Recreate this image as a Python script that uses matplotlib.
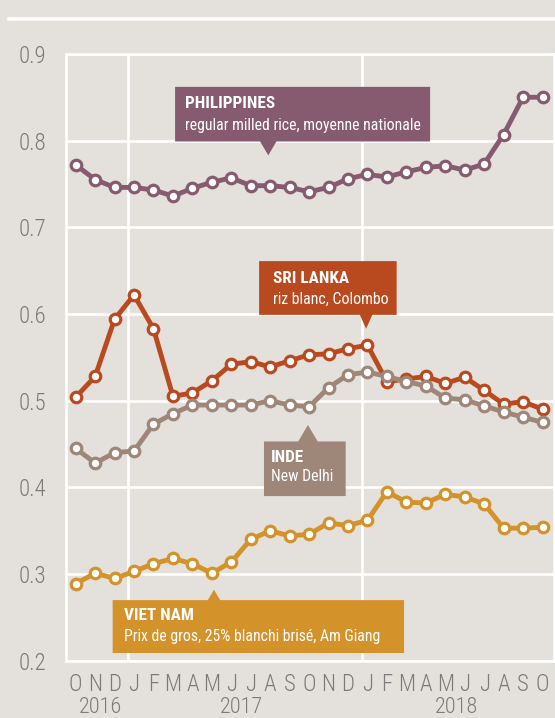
import matplotlib
matplotlib.use("Agg")
import matplotlib.pyplot as plt
from matplotlib import font_manager
from matplotlib.patches import Polygon
from matplotlib.lines import Line2D

# ---------------- data ----------------
months = ['O', 'N', 'D', 'J', 'F', 'M', 'A', 'M', 'J', 'J', 'A', 'S',
          'O', 'N', 'D', 'J', 'F', 'M', 'A', 'M', 'J', 'J', 'A', 'S', 'O']
years = ['2016', '2017', '2018']
year_pos = [1.3, 8.5, 19.6]
yticks = [0.2, 0.3, 0.4, 0.5, 0.6, 0.7, 0.8, 0.9]

philippines = [0.772, 0.755, 0.746, 0.746, 0.743, 0.736, 0.745, 0.752, 0.757,
               0.748, 0.748, 0.746, 0.741, 0.746, 0.756, 0.761, 0.758, 0.764,
               0.769, 0.771, 0.766, 0.773, 0.807, 0.850, 0.850]
sri_lanka = [0.504, 0.528, 0.594, 0.622, 0.583, 0.505, 0.509, 0.523, 0.542,
             0.545, 0.539, 0.546, 0.553, 0.554, 0.560, 0.564, 0.522, 0.525,
             0.528, 0.520, 0.527, 0.512, 0.496, 0.499, 0.490]
india = [0.445, 0.428, 0.440, 0.442, 0.473, 0.485, 0.495, 0.495, 0.495,
         0.495, 0.500, 0.495, 0.493, 0.515, 0.530, 0.533, 0.528, 0.522,
         0.517, 0.503, 0.501, 0.494, 0.487, 0.481, 0.475]
viet_nam = [0.289, 0.301, 0.295, 0.303, 0.312, 0.318, 0.312, 0.301, 0.314,
            0.340, 0.350, 0.344, 0.346, 0.359, 0.356, 0.362, 0.395, 0.383,
            0.382, 0.392, 0.389, 0.381, 0.353, 0.353, 0.354]

# ---------------- style ----------------
BG = '#e4e0dc'
C_PH = '#875b6f'
C_SL = '#b94a1f'
C_IN = '#9e8679'
C_VN = '#d4922b'
TICK_C = '#7b7b7b'

names = {f.name for f in font_manager.fontManager.ttflist}
FONT = 'DejaVu Sans'
for cand in ['Roboto Condensed', 'Liberation Sans Narrow', 'Open Sans Condensed', 'Noto Sans Condensed']:
    if cand in names:
        FONT = cand
        break
plt.rcParams['font.family'] = [FONT, 'DejaVu Sans']

fig = plt.figure(figsize=(5.55, 7.18), dpi=100)
fig.patch.set_facecolor(BG)

L, R, T, B = 65.5, 554.0, 53.9, 660.8
ax = fig.add_axes([L / 555, (718 - B) / 718, (R - L) / 555, (B - T) / 718])
ax.set_facecolor(BG)

x = list(range(len(months)))
ax.set_xlim(-0.524, 24.59)
ax.set_ylim(0.2, 0.9)

# grid
for yv in yticks:
    ax.axhline(yv, color='white', lw=1.9, zorder=1)
for xv in [2.7, 14.7]:
    ax.axvline(xv, color='white', lw=1.9, zorder=1)
for s in ax.spines.values():
    s.set_color('white')
    s.set_linewidth(1.9)

# top rule
fig.add_artist(Line2D([8.5 / 555, 1.0], [1 - 18.5 / 718] * 2, color='white', lw=2.6,
                      transform=fig.transFigure))

def series(vals, c, z):
    ax.plot(x, vals, '-o', color=c, lw=3.5, ms=7.6, mfc='white', mec=c, mew=2.3,
            zorder=z, solid_joinstyle='round')

series(philippines, C_PH, 3)
series(sri_lanka, C_SL, 3)
series(india, C_IN, 4)
series(viet_nam, C_VN, 3)

# ticks
ax.set_yticks(yticks)
ax.set_yticklabels([f'{v:.1f}' for v in yticks])
ax.set_xticks(x)
ax.set_xticklabels(months)
ax.tick_params(axis='both', length=0, colors=TICK_C, labelsize=16.5)
ax.tick_params(axis='y', pad=14)
ax.tick_params(axis='x', pad=9)
for lab in ax.get_xticklabels() + ax.get_yticklabels():
    lab.set_fontweight('light')
for yr, p in zip(years, year_pos):
    ax.text(p, -0.059, yr, transform=ax.get_xaxis_transform(), ha='center', va='top',
            fontsize=16, color=TICK_C, fontweight='light')

# annotation boxes
def callout(x0, x1, y0, y1, tipx, tipy, hw, c, title, sub, tx, ty1, ty2):
    if tipy < y0:   # pointer below
        pts = [(x0, y1), (x1, y1), (x1, y0), (tipx + hw, y0), (tipx, tipy),
               (tipx - hw, y0), (x0, y0)]
    else:           # pointer above
        pts = [(x0, y0), (x1, y0), (x1, y1), (tipx + hw, y1), (tipx, tipy),
               (tipx - hw, y1), (x0, y1)]
    ax.add_patch(Polygon(pts, closed=True, facecolor=c, edgecolor='none', zorder=5))
    ax.text(tx, ty1, title, color='white', fontsize=12.3, fontweight='bold',
            va='center', ha='left', zorder=6)
    ax.text(tx, ty2, sub, color='white', fontsize=11.3, va='center', ha='left', zorder=6)

callout(5.11, 18.22, 0.799, 0.862, 9.9, 0.783, 0.42, C_PH,
        'PHILIPPINES', 'regular milled rice, moyenne nationale', 5.62, 0.843, 0.817)
callout(9.43, 16.5, 0.599, 0.661, 14.93, 0.583, 0.32, C_SL,
        'SRI LANKA', 'riz blanc, Colombo', 10.12, 0.641, 0.617)
callout(9.68, 13.88, 0.390, 0.453, 11.94, 0.472, 0.5, C_IN,
        'INDE', 'New Delhi', 10.05, 0.435, 0.412)
callout(1.90, 16.88, 0.209, 0.270, 7.11, 0.282, 0.32, C_VN,
        'VIET NAM', 'Prix de gros, 25% blanchi brisé, Am Giang', 2.50, 0.252, 0.228)

fig.savefig('out.png', dpi=100, facecolor=BG)
